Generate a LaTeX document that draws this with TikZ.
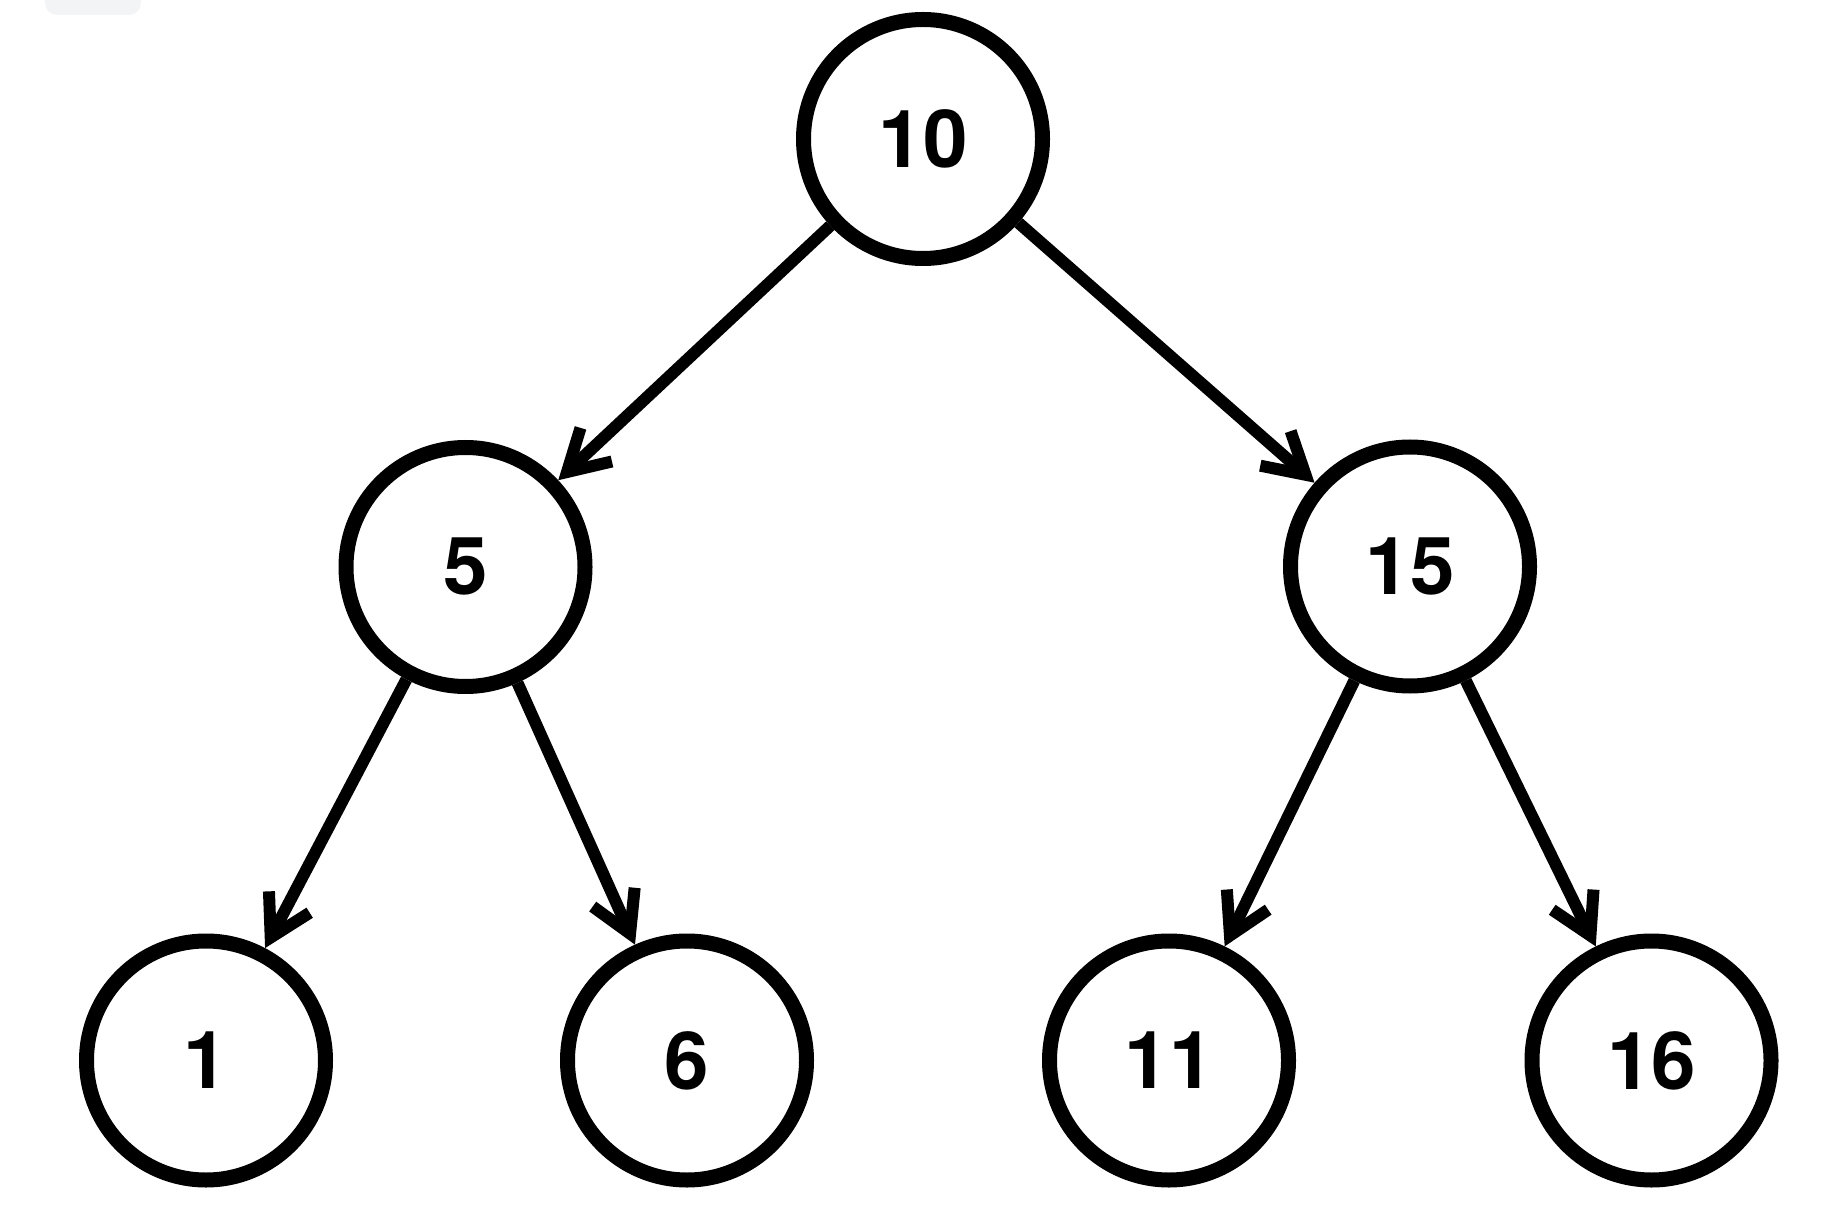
\documentclass[tikz,border=0pt]{standalone}
\usepackage{fontspec}
\setmainfont{TeX Gyre Heros}
\usetikzlibrary{arrows.meta}
\begin{document}
\begin{tikzpicture}[x=0.5pt,y=-0.5pt,
  treenode/.style={circle,draw=black,line width=7.5pt,minimum size=119.5pt,inner sep=0pt,
    font=\bfseries\fontsize{40}{48}\selectfont},
  link/.style={line width=6pt,-{Straight Barb[length=20pt,width=23pt,line width=6pt]}}]
\useasboundingbox (0,0) rectangle (1848,1208);
\fill[fill={rgb,255:red,243;green,244;blue,246},rounded corners=6pt] (45,-20) rectangle (141,15);
\node[treenode] (n10) at (923,139) {10};
\node[treenode] (n5) at (465.5,567) {5};
\node[treenode] (n15) at (1410,566.5) {15};
\node[treenode] (n1) at (206,1060.5) {1};
\node[treenode] (n6) at (687,1060.5) {6};
\node[treenode] (n11) at (1169,1060.5) {11};
\node[treenode] (n16) at (1651.5,1060.5) {16};
\draw[link] (n10) -- (n5);
\draw[link] (n10) -- (n15);
\draw[link] (n5) -- (n1);
\draw[link] (n5) -- (n6);
\draw[link] (n15) -- (n11);
\draw[link] (n15) -- (n16);
\end{tikzpicture}
\end{document}
